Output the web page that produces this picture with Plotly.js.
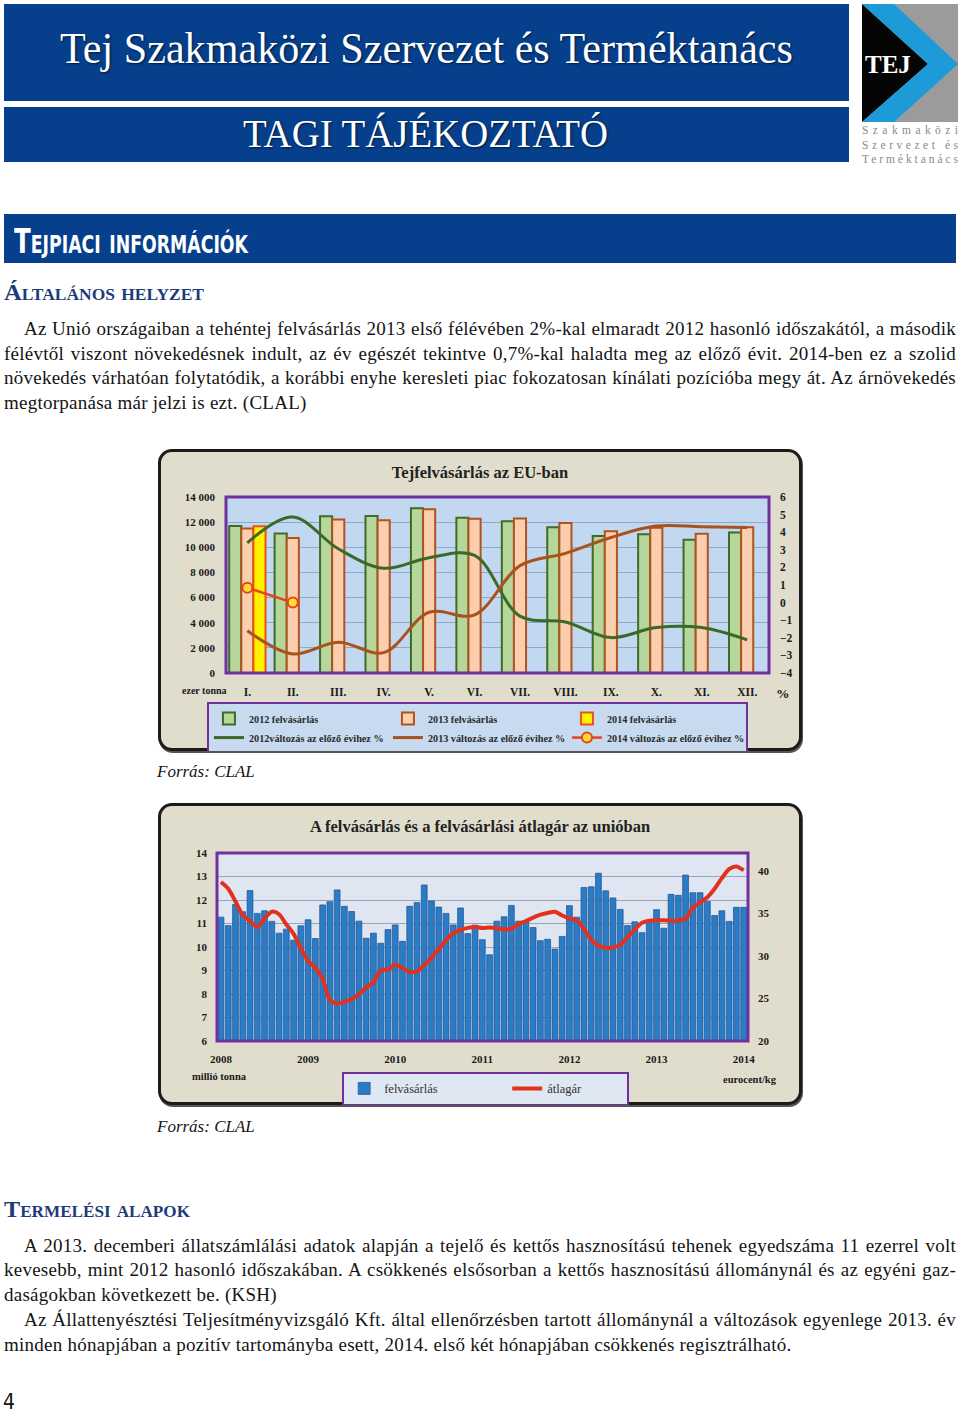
<!DOCTYPE html>
<html lang="hu"><head><meta charset="utf-8">
<script src="https://cdn.plot.ly/plotly-3.0.1.min.js"></script>
<style>
html,body{margin:0;padding:0;}
body{width:960px;height:1412px;position:relative;background:#fff;overflow:hidden;font-family:"Liberation Serif","Times New Roman",serif;color:#141414;}
.a{position:absolute;white-space:nowrap;}
.hbar{position:absolute;background:#063f8b;}
.ht{position:absolute;color:#fff;white-space:nowrap;text-shadow:1px 1px 2px #00193d;transform-origin:0 0;}
.sec{position:absolute;left:4px;font-weight:bold;color:#1d3b79;font-variant:small-caps;font-size:24px;line-height:26px;white-space:nowrap;transform-origin:0 0;}
.ln{position:absolute;font-size:19px;letter-spacing:0.25px;line-height:25px;white-space:nowrap;text-align:justify;text-align-last:justify;}
.ln.last{text-align:left;text-align-last:left;}
.frame{position:absolute;left:158px;width:638px;height:296px;border:3px solid #1b1b1b;border-radius:14px;background:#e1ddcc;box-shadow:1px 2px 0 #555;}
.src{position:absolute;left:157px;font-style:italic;font-size:17px;line-height:20px;white-space:nowrap;}
.plot{position:absolute;left:158px;width:644px;height:302px;}
.fit{transform-origin:0 0;display:inline-block;}
</style></head><body>

<!-- header -->
<div class="hbar" style="left:4px;top:4px;width:845px;height:97px;"></div>
<div class="hbar" style="left:4px;top:107px;width:845px;height:55px;"></div>
<div class="ht fit" data-fit="733" style="left:60px;top:26px;font-size:45px;line-height:45px;">Tej Szakmaközi Szervezet és Terméktanács</div>
<div class="ht fit" data-fit="365" style="left:243px;top:114px;font-size:40px;line-height:40px;">TAGI TÁJÉKOZTATÓ</div>

<svg class="a" style="left:860px;top:0px" width="100" height="170">
  <rect x="2" y="4" width="96" height="118" fill="#9b9b9b"/>
  <polygon points="2,4 68,64 2,122" fill="#050505"/>
  <polygon points="2,4 34,4 98,64 34,122 2,122 68,64" fill="#1d9ad8"/>
  <polygon points="2,9 62,64 2,117" fill="#050505"/>
  <text x="5" y="73" fill="#fff" font-family="Liberation Serif" font-weight="bold" font-size="25">TEJ</text>
  <text x="2" y="134" fill="#8a8a8a" font-family="Liberation Serif" font-size="11.5" textLength="96" lengthAdjust="spacing">Szakmaközi</text>
  <text x="2" y="149" fill="#8a8a8a" font-family="Liberation Serif" font-size="11.5" textLength="96" lengthAdjust="spacing">Szervezet és</text>
  <text x="2" y="163" fill="#8a8a8a" font-family="Liberation Serif" font-size="11.5" textLength="96" lengthAdjust="spacing">Terméktanács</text>
</svg>

<!-- section bar -->
<div class="hbar" style="left:4px;top:214px;width:952px;height:49px;"></div>
<div class="a fit" data-fit="234" style="left:14px;top:224px;font-family:'DejaVu Sans Condensed','DejaVu Sans',sans-serif;font-weight:bold;font-variant:small-caps;font-size:34px;line-height:34px;color:#fff;">Tejpiaci információk</div>

<div class="sec fit" data-fit="200" style="top:279px;">Általános helyzet</div>

<div class="ln" style="left:24px;width:932px;top:316px;">Az Unió országaiban a tehéntej felvásárlás 2013 első félévében 2%-kal elmaradt 2012 hasonló időszakától, a második</div>
<div class="ln" style="left:4px;width:952px;top:341px;">félévtől viszont növekedésnek indult, az év egészét tekintve 0,7%-kal haladta meg az előző évit. 2014-ben ez a szolid</div>
<div class="ln" style="left:4px;width:952px;top:365px;">növekedés várhatóan folytatódik, a korábbi enyhe keresleti piac fokozatosan kínálati pozícióba megy át. Az árnövekedés</div>
<div class="ln last" style="left:4px;width:952px;top:390px;">megtorpanása már jelzi is ezt. (CLAL)</div>

<div class="frame" style="top:449px;"></div>
<div id="chart1" class="plot" style="top:449px;"></div>
<div class="src" style="top:762px;">Forrás: CLAL</div>

<div class="frame" style="top:803px;"></div>
<div id="chart2" class="plot" style="top:803px;"></div>
<div class="src" style="top:1117px;">Forrás: CLAL</div>

<div class="sec fit" data-fit="186" style="top:1196px;">Termelési alapok</div>

<div class="ln" style="left:24px;width:932px;top:1233px;">A 2013. decemberi állatszámlálási adatok alapján a tejelő és kettős hasznosítású tehenek egyedszáma 11 ezerrel volt</div>
<div class="ln" style="left:4px;width:952px;top:1257px;">kevesebb, mint 2012 hasonló időszakában. A csökkenés elsősorban a kettős hasznosítású állománynál és az egyéni gaz-</div>
<div class="ln last" style="left:4px;width:952px;top:1282px;">daságokban következett be. (KSH)</div>
<div class="ln" style="left:24px;width:932px;top:1307px;">Az Állattenyésztési Teljesítményvizsgáló Kft. által ellenőrzésben tartott állománynál a változások egyenlege 2013. év</div>
<div class="ln last" style="left:4px;width:952px;top:1332px;">minden hónapjában a pozitív tartományba esett, 2014. első két hónapjában csökkenés regisztrálható.</div>

<div class="a" style="left:3px;top:1390px;font-family:'DejaVu Sans Condensed','DejaVu Sans',sans-serif;font-size:21px;line-height:24px;">4</div>

<script>
// ---------- Chart 1 data ----------
const months1 = ['I.','II.','III.','IV.','V.','VI.','VII.','VIII.','IX.','X.','XI.','XII.'];
const purch2012 = [11700,11090,12470,12490,13100,12340,12070,11600,10900,11040,10590,11170];
const purch2013 = [11490,10740,12210,12160,13020,12270,12290,11930,11280,11560,11070,11600];
const purch2014 = [11670];
const chg2012 = [3.4,4.86,3.06,1.95,2.55,2.68,-0.77,-1.1,-1.99,-1.42,-1.42,-2.12];
const chg2013 = [-1.6,-2.92,-2.25,-2.84,-0.55,-0.7,2.1,2.8,3.7,4.35,4.31,4.27];
const chg2014 = [0.85,0.0];
const names1 = ['2012 felvásárlás','2013 felvásárlás','2014 felvásárlás',
  '2012változás az előző évihez %','2013 változás az előző évihez %','2014 változás az előző évihez %'];

// ---------- Chart 2 data ----------
const years = ['2008','2009','2010','2011','2012','2013','2014'];
const purchase = [
 11.27,10.91,11.81,11.50,12.40,11.43,11.54,11.09,10.59,10.76,10.29,10.90,
 11.16,10.36,11.79,11.93,12.43,11.73,11.51,11.10,10.37,10.59,10.16,10.74,
 10.94,10.24,11.73,11.89,12.64,11.96,11.70,11.43,10.94,11.66,10.57,10.93,
 10.31,9.67,11.10,11.29,11.77,11.10,11.10,10.83,10.27,10.33,9.91,10.45,
 11.76,11.27,12.53,12.56,13.14,12.39,12.09,11.60,10.91,11.07,10.61,11.10,
 11.59,10.80,12.24,12.20,13.06,12.31,12.31,11.94,11.34,11.54,11.09,11.69,
 11.69];
const price = [
 38.7,37.9,36.4,34.8,34.1,33.4,34.4,35.2,34.9,33.7,32.6,30.9,
 29.4,28.6,27.3,24.8,24.4,24.6,24.9,25.5,26.3,26.9,28.3,28.4,
 29.0,28.6,28.1,28.2,28.9,29.8,30.8,31.85,32.7,33.05,33.3,33.4,
 33.27,33.35,33.26,33.1,33.2,33.75,34.1,34.5,34.85,35.05,35.2,34.75,
 34.4,34.2,33.2,31.9,31.2,30.95,31.0,31.3,32.2,33.1,33.9,34.15,
 34.2,34.2,34.14,34.17,34.4,35.65,36.3,36.9,37.9,39.15,40.2,40.5,
 40.05];
const names2 = ['felvásárlás','átlagár'];

// month category labels
const monthCats = [];
years.forEach(function(yr){ for (let m=1;m<=12;m++){ monthCats.push(yr+'-'+(m<10?'0':'')+m); } });
const cats2 = monthCats.slice(0, purchase.length);
const yearTicks = years.map(function(y){return y+'-01';});

const SERIF = 'Liberation Serif, Times New Roman, serif';
const boldFont = function(size, color){ return {family:SERIF, size:size, color:color||'#1a1a1a', weight:'bold'}; };

// ---------- Chart 1 ----------
const tr1 = [
 {type:'bar', name:names1[0], x:months1, y:purch2012, marker:{color:'#b7d69b', line:{color:'#3d6c27', width:2}}},
 {type:'bar', name:names1[1], x:months1, y:purch2013, marker:{color:'#fbcfae', line:{color:'#b0541f', width:2}}},
 {type:'bar', name:names1[2], x:months1.slice(0,purch2014.length), y:purch2014, marker:{color:'#fff200', line:{color:'#e8521c', width:2}}},
 {type:'scatter', mode:'lines', name:names1[3], x:months1, y:chg2012, yaxis:'y2', line:{color:'#3b6a28', width:3, shape:'spline', smoothing:1}},
 {type:'scatter', mode:'lines', name:names1[4], x:months1, y:chg2013, yaxis:'y2', line:{color:'#a9521d', width:3, shape:'spline', smoothing:1}},
 {type:'scatter', mode:'lines+markers', name:names1[5], x:months1.slice(0,chg2014.length), y:chg2014, yaxis:'y2',
   line:{color:'#e8421c', width:2.5}, marker:{size:10, color:'#ffdc3a', line:{color:'#e8421c', width:2}}}
];
const lay1 = {
 width:644, height:302, autosize:false,
 paper_bgcolor:'rgba(0,0,0,0)', plot_bgcolor:'#c2d7f0',
 margin:{l:68, r:33, t:48, b:78},
 barmode:'group', bargap:0.2, bargroupgap:0,
 separators:', ',
 font:{family:SERIF, color:'#1a1a1a'},
 title:{text:'Tejfelvásárlás az EU-ban', font:boldFont(16.5,'#222'), x:0.5, xref:'container', y:0.924, yref:'container', yanchor:'middle'},
 xaxis:{type:'category', range:[-0.47,11.48], tickfont:boldFont(11.5), ticks:'', showgrid:false, zeroline:false, showline:false, ticklabelstandoff:10},
 yaxis:{range:[0,14000], dtick:2000, tickformat:',d', tickfont:boldFont(11), gridcolor:'#8fa8c8', gridwidth:1, zeroline:false, showline:false, ticks:'', ticklabelstandoff:10},
 yaxis2:{range:[-4,6], dtick:1, overlaying:'y', side:'right', tickfont:boldFont(11.5), showgrid:false, zeroline:false, showline:false, ticks:'', ticklabelstandoff:10},
 legend:{orientation:'h', xref:'container', yref:'container', x:0.076, xanchor:'left', y:0.162, yanchor:'top', bgcolor:'#c8daf0', bordercolor:'#7030a0', borderwidth:2,
   font:boldFont(10.2,'#2a2a2a'), entrywidth:134, entrywidthmode:'pixels', traceorder:'normal', tracegroupgap:0, itemwidth:30},
 shapes:[{type:'rect', xref:'paper', yref:'paper', x0:0, x1:1, y0:0, y1:1, line:{color:'#7030a0', width:3}, layer:'above'}],
 annotations:[
  {text:'ezer tonna', xref:'paper', yref:'paper', x:-0.085, xanchor:'left', y:-0.102, yanchor:'middle', showarrow:false, font:boldFont(10)},
  {text:'%', xref:'paper', yref:'paper', x:1.026, xanchor:'center', y:-0.114, yanchor:'middle', showarrow:false, font:boldFont(13.5)}
 ]
};

// ---------- Chart 2 ----------
const tr2 = [
 {type:'bar', name:names2[0], x:cats2, y:purchase, marker:{color:'#2a7cc6', line:{color:'#1b4f8f', width:0.7}}, legendwidth:118},
 {type:'scatter', mode:'lines', name:names2[1], x:cats2, y:price, yaxis:'y2', line:{color:'#e2311d', width:4, shape:'spline', smoothing:0.8}, legendwidth:75}
];
const lay2 = {
 width:644, height:302, autosize:false,
 paper_bgcolor:'rgba(0,0,0,0)', plot_bgcolor:'#dfe6f1',
 margin:{l:59, r:54, t:50, b:64},
 bargap:0.2,
 font:{family:SERIF, color:'#1a1a1a'},
 title:{text:'A felvásárlás és a felvásárlási átlagár az unióban', font:boldFont(16.5,'#222'), x:0.5, xref:'container', y:0.924, yref:'container', yanchor:'middle'},
 xaxis:{type:'category', categoryorder:'array', categoryarray:cats2, range:[-0.55,72.6], tickvals:yearTicks, ticktext:years, tickfont:boldFont(11), ticks:'', showgrid:false, zeroline:false, showline:false, ticklabelstandoff:10},
 yaxis:{range:[6,14], dtick:1, tickfont:boldFont(11), gridcolor:'#9aa6b8', gridwidth:1, zeroline:false, showline:false, ticks:'', ticklabelstandoff:9},
 yaxis2:{range:[20,42.1], tickvals:[20,25,30,35,40], overlaying:'y', side:'right', tickfont:boldFont(11), showgrid:false, zeroline:false, showline:false, ticks:'', ticklabelstandoff:9},
 legend:{orientation:'h', xref:'container', yref:'container', x:0.286, xanchor:'left', y:0.11, yanchor:'top', bgcolor:'#dfe7f3', bordercolor:'#7030a0', borderwidth:2,
   font:{family:SERIF, size:12.5, color:'#333'}, traceorder:'normal', itemwidth:30},
 shapes:[{type:'rect', xref:'paper', yref:'paper', x0:0, x1:1, y0:0, y1:1, line:{color:'#7030a0', width:3}, layer:'above'}],
 annotations:[
  {text:'millió tonna', xref:'paper', yref:'paper', x:-0.051, xanchor:'left', y:-0.19, yanchor:'middle', showarrow:false, font:boldFont(10.5)},
  {text:'eurocent/kg', xref:'paper', yref:'paper', x:1.004, xanchor:'center', y:-0.207, yanchor:'middle', showarrow:false, font:boldFont(10.5)}
 ]
};

const cfg = {displayModeBar:false, staticPlot:true};
Plotly.newPlot('chart1', tr1, lay1, cfg);
Plotly.newPlot('chart2', tr2, lay2, cfg);

// fit some display texts to their measured widths in the reference
document.querySelectorAll('.fit').forEach(function(el){
  const target = parseFloat(el.getAttribute('data-fit'));
  const w = el.getBoundingClientRect().width;
  if (w > 0) el.style.transform = 'scaleX(' + (target / w).toFixed(4) + ')';
});
</script>
</body></html>
